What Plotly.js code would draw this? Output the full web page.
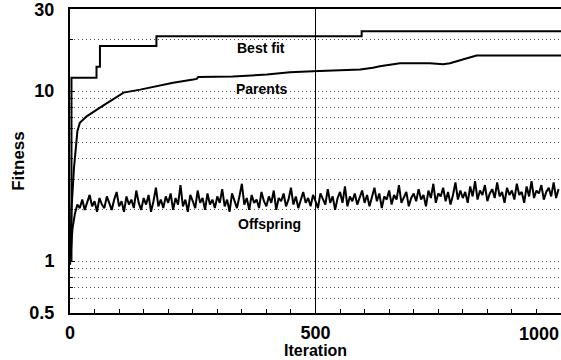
<!DOCTYPE html>
<html>
<head>
<meta charset="utf-8">
<script src="https://cdn.plot.ly/plotly-3.0.1.min.js"></script>
<style>
html,body{margin:0;padding:0;background:#fff;}
#chart{width:561px;height:360px;}
</style>
</head>
<body>
<div id="chart"></div>
<script>
// Best fit (step function)
const bestIter = [0, 3, 54, 61, 176, 594, 1000];
const bestFit  = [1.0, 12.0, 13.9, 18.4, 21.0, 22.5, 22.5];

// Parents
const parentIter = [0, 3, 8, 15, 20, 34, 61, 81, 109, 143, 177, 210, 251, 258, 261, 300, 332, 401, 448, 495, 550, 591, 617, 631, 672, 733, 760, 774, 798, 828, 1000];
const parents    = [1.0, 2.0, 3.5, 5.8, 6.5, 7.1, 8.0, 8.7, 9.8, 10.2, 10.7, 11.2, 11.7, 11.8, 12.1, 12.1, 12.2, 12.5, 12.9, 13.1, 13.2, 13.4, 13.7, 14.0, 14.6, 14.6, 14.4, 14.6, 15.3, 16.2, 16.2];

// Offspring (sampled every 5 iterations)
const offspringStep = 5;
const offspring = [
 0.95,1.55,1.9,2.15,2.05,2.3,2.0,2.2,2.45,2.1,2.25,1.95,2.35,2.15,2.05,2.4,2.2,2.0,2.3,2.55,
 2.1,2.25,1.95,2.4,2.15,2.3,2.05,2.6,2.2,2.0,2.35,2.15,2.45,1.95,2.25,2.7,2.1,2.3,2.05,2.4,
 2.2,2.5,2.0,2.35,2.15,2.8,2.1,2.3,1.95,2.45,2.25,2.05,2.6,2.2,2.35,2.0,2.5,2.15,2.3,2.05,
 2.4,2.2,2.65,2.1,2.3,1.95,2.5,2.25,2.05,2.4,2.85,2.15,2.35,2.0,2.45,2.2,2.3,2.05,2.55,2.25,
 2.1,2.4,2.2,2.6,2.0,2.35,2.25,2.5,2.1,2.3,2.7,2.15,2.4,2.05,2.3,2.55,2.2,2.35,2.1,2.45,
 2.25,2.05,2.5,2.3,2.15,2.65,2.2,2.4,2.0,2.35,2.55,2.2,2.75,2.1,2.4,2.25,2.5,2.15,2.35,2.6,
 2.2,2.45,2.1,2.35,2.7,2.25,2.5,2.05,2.4,2.3,2.6,2.15,2.45,2.3,2.8,2.2,2.4,2.55,2.1,2.35,
 2.5,2.25,2.65,2.3,2.45,2.1,2.6,2.35,2.85,2.2,2.5,2.4,2.7,2.25,2.55,2.15,2.45,2.9,2.3,2.6,
 2.35,2.55,2.2,2.75,2.4,2.95,2.3,2.6,2.45,2.8,2.25,2.5,2.65,2.35,2.9,2.4,2.55,2.2,2.7,2.45,
 2.6,2.3,2.85,2.45,2.55,2.2,2.75,2.4,2.95,2.35,2.6,2.5,2.8,2.3,2.55,2.7,2.4,2.9,2.35,2.65
];
const offspringIter = offspring.map((v, i) => i * offspringStep);

// Axis ticks
const xTickVals = [0, 500, 1000];
const xTickText = ['0', '500', ''];
const yTickVals = [0.5, 1, 10, 30];
const yTickText = ['0.5', '1', '10', '30'];
const yGridVals = [0.6, 0.7, 0.8, 0.9, 1, 2, 3, 4, 5, 6, 7, 8, 9, 10, 20];

const F = 'Liberation Sans, Arial, sans-serif';

const traces = [
  {x: offspringIter, y: offspring, mode: 'lines', line: {color: '#000', width: 2}, name: 'Offspring'},
  {x: parentIter, y: parents, mode: 'lines', line: {color: '#000', width: 2}, name: 'Parents'},
  {x: bestIter, y: bestFit, mode: 'lines', line: {color: '#000', width: 2, shape: 'hv'}, name: 'Best fit'}
];

const layout = {
  width: 561, height: 360,
  margin: {l: 70, r: 0, t: 9, b: 47},
  paper_bgcolor: '#fff', plot_bgcolor: '#fff',
  showlegend: false,
  font: {family: F, color: '#000'},
  xaxis: {
    range: [0, 1000], fixedrange: true,
    tickvals: xTickVals, ticktext: xTickText,
    ticks: 'inside', ticklen: 5, tickcolor: '#000',
    tickfont: {family: F, size: 18, color: '#000', weight: 'bold'},
    ticklabelstandoff: 2,
    showgrid: true, gridcolor: '#000', gridwidth: 1.5,
    zeroline: false,
    showline: true, linecolor: '#000', linewidth: 2, mirror: true,
    minor: {dtick: 50, ticks: 'inside', ticklen: 4, tickcolor: '#000', showgrid: false}
  },
  yaxis: {
    type: 'log', range: [Math.log10(0.495), Math.log10(30.4)], fixedrange: true,
    tickvals: yTickVals, ticktext: yTickText,
    ticks: 'inside', ticklen: 5, tickcolor: '#000',
    tickfont: {family: F, size: 18, color: '#000', weight: 'bold'},
    ticklabelstandoff: 10, ticklabeloverflow: 'allow',
    showgrid: false, zeroline: false,
    showline: true, linecolor: '#000', linewidth: 2, mirror: true,
    minor: {tickvals: yGridVals, ticks: 'inside', ticklen: 3, tickcolor: '#000',
            showgrid: true, gridcolor: '#555', gridwidth: 1, griddash: '1px,3px'},
    title: {text: '<b>Fitness</b>', font: {family: F, size: 17, color: '#000'}, standoff: 0}
  },
  annotations: [
    {xref: 'x', yref: 'y', x: 389, y: Math.log10(17.9), text: '<b>Best fit</b>', showarrow: false, font: {family: F, size: 14, color: '#000'}},
    {xref: 'x', yref: 'y', x: 391, y: Math.log10(10.3), text: '<b>Parents</b>', showarrow: false, font: {family: F, size: 14, color: '#000'}},
    {xref: 'x', yref: 'y', x: 407, y: Math.log10(1.66), text: '<b>Offspring</b>', showarrow: false, font: {family: F, size: 14, color: '#000'}},
    {xref: 'x', yref: 'paper', x: 1000, y: 0, xanchor: 'right', yanchor: 'top', yshift: -9, text: '<b>1000</b>', showarrow: false, font: {family: F, size: 18, color: '#000'}},
    {xref: 'x', yref: 'paper', x: 500, y: 0, xanchor: 'center', yanchor: 'bottom', yshift: -47, borderpad: 0, text: '<b>Iteration</b>', showarrow: false, font: {family: F, size: 16, color: '#000'}}
  ]
};

Plotly.newPlot('chart', traces, layout, {displayModeBar: false, staticPlot: true});
</script>
</body>
</html>
